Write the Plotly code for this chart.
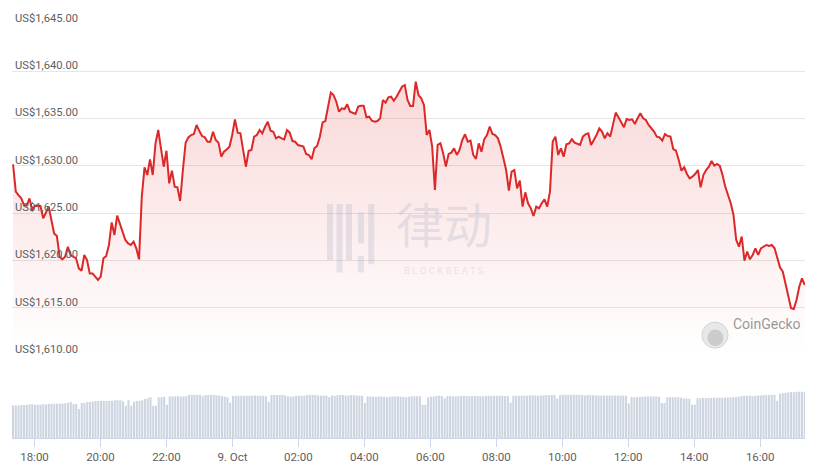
import pandas as pd
import plotly.graph_objects as go

# ---- data (ETH price, 5-min samples, 8-9 Oct) ----
price_a = [1630.16, 1627.27, 1626.91, 1626.56, 1625.86, 1625.79, 1626.56, 1625.33, 1625.79, 1625.79,
           1625.75, 1624.45, 1625.15, 1625.68, 1624.27, 1622.86, 1622.58, 1620.39, 1620.11, 1620.39,
           1621.45, 1620.57, 1620.39, 1620.22, 1619.16, 1618.91, 1620.57, 1620.04, 1618.63, 1618.63,
           1618.28, 1617.93, 1618.28, 1620.22, 1620.46, 1621.63, 1624.02, 1622.68, 1624.73, 1623.92,
           1623.14, 1622.16, 1621.8, 1621.63, 1621.98, 1621.27]
price_b = [1620.11, 1626.74, 1629.84, 1629.03, 1630.69, 1629.03, 1632.38, 1633.79, 1631.85, 1629.91,
           1631.6, 1628.15, 1629.49, 1627.8, 1627.73, 1626.28, 1629.56, 1632.45, 1633.01, 1633.26,
           1633.36, 1634.32, 1633.68, 1633.15, 1633.01, 1632.55, 1632.55, 1633.61, 1632.73, 1632.45,
           1630.97, 1631.5, 1631.74, 1632.03, 1633.26, 1634.92, 1633.51, 1633.44, 1631.67, 1629.91,
           1631.6, 1631.67, 1633.08, 1633.26, 1633.79, 1633.44, 1634.14, 1634.67, 1633.72]
price_c = [1633.61, 1632.91, 1633.08, 1632.91, 1632.8, 1633.79, 1633.51, 1632.62, 1632.55, 1632.2,
           1632.1, 1632.03, 1631.25, 1631.14, 1630.69, 1631.85, 1632.1, 1633.08, 1634.6, 1634.74,
           1636.26, 1637.74, 1637.49, 1636.78, 1635.73, 1636.08, 1636.01, 1636.5, 1635.73, 1635.62,
           1635.48, 1636.26, 1636.36, 1636.36, 1635.13, 1635.2, 1634.77, 1634.67, 1634.74, 1635.02,
           1636.96, 1636.68, 1637.24, 1637.31, 1636.89, 1637.31, 1637.84, 1638.37, 1638.55, 1636.96]
price_d = [1636.33, 1636.33, 1638.9, 1637.49, 1637.14, 1636.44, 1633.26, 1633.79, 1632.03, 1627.45,
           1632.21, 1632.38, 1631.33, 1629.92, 1631.26, 1631.4, 1631.85, 1631.15, 1631.68, 1632.74,
           1633.34, 1632.56, 1632.67, 1631.15, 1630.73, 1632.38, 1631.5, 1632.81, 1633.26, 1634.15,
           1633.37, 1633.26, 1632.91, 1632.03, 1630.8, 1629.56, 1627.38, 1629.39, 1629.56, 1627.62,
           1628.44, 1625.69, 1627.2, 1626.04, 1625.51, 1624.7, 1625.69, 1625.51, 1626.04, 1626.46,
           1625.69, 1627.27, 1632.56, 1633.09, 1631.15, 1631.85, 1630.97, 1632.28, 1632.38, 1632.81,
           1632.45, 1632.31, 1632.21, 1633.09, 1633.34, 1633.44, 1632.21, 1632.74, 1633.26, 1633.97,
           1633.62, 1632.91, 1633.44, 1633.09, 1634.5, 1635.63, 1635.13, 1634.67, 1634.08, 1634.96,
           1634.85, 1634.92, 1634.43, 1635.03, 1635.56, 1635.03, 1634.85, 1634.32, 1633.97, 1633.62,
           1633.09, 1633.02, 1632.67, 1633.37, 1633.16, 1633.09, 1631.78, 1631.61, 1630.62, 1629.49,
           1629.85, 1629.14, 1628.68, 1628.86, 1629.14, 1629.56, 1627.73, 1629.03, 1629.56, 1629.92,
           1630.52, 1630.02, 1630.2, 1630.0, 1629.03, 1627.8, 1626.92, 1626.04, 1624.8, 1622.16]
price_e = [1621.46, 1622.52, 1619.98, 1620.93, 1620.12, 1620.58, 1621.28, 1620.58, 1621.28, 1621.46,
           1621.63, 1621.53, 1621.63, 1621.28, 1620.22, 1619.24, 1618.81, 1617.58, 1616.35, 1614.94,
           1614.87, 1615.82, 1617.22, 1618.11, 1617.4]
prices = price_a + price_b + price_c + price_d + price_e

# 24h volume (US$ bn), one bar per sample
volumes = [4.25, 4.25, 4.25, 4.3, 4.3, 4.35, 4.4, 4.4, 4.35, 4.33, 4.33, 4.4, 4.38,
           4.42, 4.46, 4.46, 4.46, 4.5, 4.5, 4.55, 4.59, 4.72, 4.42, 4.45, 3.77,
           4.55, 4.6, 4.68, 4.72, 4.76, 4.81, 4.81, 4.81, 4.83, 4.81, 4.81, 4.85,
           4.94, 4.94, 4.92, 4.8, 4.2, 4.94, 4.2, 4.72, 4.81, 4.85, 4.94, 5.1, 5.2, 5.33,
           4.2, 4.2, 5.3, 5.33, 5.38, 4.33, 5.42, 5.4, 5.42, 5.45, 5.42, 5.4, 5.45,
           5.63, 5.63, 5.6, 5.63, 5.6, 5.45, 5.6, 5.6, 5.63, 5.6, 5.58, 5.55, 5.45, 5.4, 5.33,
           4.64, 5.48, 5.5, 5.5, 5.52, 5.5, 5.5, 5.52, 5.5, 5.55, 5.5, 5.5, 5.52, 5.45, 4.72,
           5.6, 5.62, 5.62, 5.6, 5.6, 5.55, 5.4, 5.4, 5.42, 5.5, 5.5, 5.52, 5.5,
           5.6, 5.6, 5.62, 5.6, 5.55, 5.52, 5.55, 5.5, 5.33,
           5.55, 5.52, 5.58, 5.6, 5.6, 5.55, 5.55, 5.6, 5.58, 5.55, 5.5, 5.5, 4.55,
           5.4, 5.42, 5.4, 5.35, 5.42, 5.4, 5.38, 5.33, 5.38, 5.42, 5.4, 5.4, 5.38, 5.35, 5.33, 5.38,
           5.45, 5.45, 5.45, 5.45, 4.33, 4.33, 5.33, 5.42, 5.42, 5.5, 5.5, 5.48, 5.2,
           5.45, 5.48, 5.45, 5.42, 5.45, 5.48,
           5.5, 5.48, 5.45, 5.48, 5.5, 5.48, 5.45, 5.45, 5.48, 5.5, 5.48,
           5.5, 5.52, 5.5, 5.5, 5.48, 5.5, 4.64,
           5.5, 5.5, 5.52, 5.5, 5.55, 5.52, 5.55, 5.58, 5.55, 5.52, 5.55, 5.58, 5.6, 5.58, 5.6,
           5.62, 5.15, 5.6,
           5.63, 5.63, 5.65, 5.65, 5.63, 5.63, 5.6, 5.6, 5.55, 5.6, 5.6,
           5.58, 5.55, 5.55, 5.55, 5.55, 5.55, 5.55, 5.55, 5.55, 5.55, 5.55, 5.55, 5.5, 4.5,
           5.35, 5.3, 5.3, 5.35, 5.4, 5.4, 5.42, 5.42, 5.4, 5.4, 5.38, 4.55, 4.55,
           5.3, 5.33, 5.33, 5.3, 5.3, 5.25, 5.15, 5.15, 5.12, 4.35, 4.35,
           5.2, 5.2, 5.22, 5.22, 5.22, 5.25, 5.25, 5.25, 5.25, 5.25, 5.25, 5.28, 5.28, 5.3, 5.3,
           5.4, 5.45, 5.5, 5.5, 5.55, 5.45, 5.5, 5.55, 5.55, 5.6, 5.6, 5.6, 5.63, 5.63, 4.85,
           5.76, 5.85, 5.9, 5.94, 6.0, 5.98, 6.02, 6.02, 6.02, 6.02]

start_time = "2023-10-08 17:21"
end_time = "2023-10-09 17:21"
price_times = pd.date_range(start_time, end_time, periods=len(prices))
volume_times = pd.date_range(start_time, end_time, periods=len(volumes))

price_ticks = [1610, 1615, 1620, 1625, 1630, 1635, 1640, 1645]
price_tick_text = [f"US${v:,.2f}" for v in price_ticks]
time_ticks = ["2023-10-08 18:00", "2023-10-08 20:00", "2023-10-08 22:00", "2023-10-09 00:00",
              "2023-10-09 02:00", "2023-10-09 04:00", "2023-10-09 06:00", "2023-10-09 08:00",
              "2023-10-09 10:00", "2023-10-09 12:00", "2023-10-09 14:00", "2023-10-09 16:00"]
time_tick_text = ["18:00", "20:00", "22:00", "9. Oct", "02:00", "04:00", "06:00", "08:00",
                  "10:00", "12:00", "14:00", "16:00"]

LINE = "#dc2828"
FONT = "Roboto"
TXT = "#5e5e5e"

fig = go.Figure()
fig.add_trace(go.Bar(
    x=volume_times, y=volumes, yaxis="y2",
    marker=dict(color="#cdd5e1", line=dict(width=0)),
    hoverinfo="skip", showlegend=False,
))
fig.add_trace(go.Scatter(
    x=price_times, y=prices, mode="lines",
    line=dict(color=LINE, width=2),
    fill="tozeroy",
    fillgradient=dict(type="vertical", start=1610, stop=1640,
                      colorscale=[[0, "rgba(225,45,45,0.0)"], [1, "rgba(225,45,45,0.19)"]]),
    showlegend=False,
))

# the page places the figure 8px from the top-left corner, so the figure is 8px smaller
fig.update_layout(
    width=820, height=467,
    margin=dict(l=4, r=23, t=16, b=37),
    paper_bgcolor="white", plot_bgcolor="white",
    font=dict(family=FONT, size=11.5, color=TXT),
    bargap=0.25,
    showlegend=False,
    xaxis=dict(
        type="date", anchor="y2", automargin=False,
        range=["2023-10-08 17:19:05", "2023-10-09 17:21:30"],
        showgrid=False, zeroline=False,
        showline=True, linecolor="#ccd6eb", linewidth=1,
        ticks="outside", ticklen=8, tickcolor="#ccd6eb",
        tickvals=time_ticks, ticktext=time_tick_text,
        tickfont=dict(family=FONT, size=11.5, color=TXT),
    ),
    yaxis=dict(
        domain=[0.2005, 1], range=[1610, 1645], automargin=False,
        tickvals=price_ticks, ticktext=price_tick_text,
        ticklabelposition="inside", ticklabelshift=-6, ticklabeloverflow="allow",
        ticklabelstandoff=0,
        showgrid=True, gridcolor="#e6e6e6", gridwidth=1,
        zeroline=False, showline=False, ticks="",
        tickfont=dict(family=FONT, size=11.2, color=TXT),
    ),
    yaxis2=dict(domain=[0, 0.2], range=[0, 10.8], visible=False, fixedrange=True,
                automargin=False),
)

# watermark: BlockBeats logo + CoinGecko
wm = "rgba(180,182,205,0.32)"
for x0, y0, y1 in [(0.401, 0.43, 0.565), (0.413, 0.40, 0.565), (0.425, 0.43, 0.565),
                   (0.440, 0.47, 0.545), (0.440, 0.40, 0.44), (0.453, 0.42, 0.565)]:
    fig.add_shape(type="line", xref="paper", yref="paper", x0=x0, x1=x0, y0=y0, y1=y1,
                  line=dict(color=wm, width=6), layer="above")
fig.add_annotation(text="律动", xref="paper", yref="paper", x=0.545, y=0.522,
                   showarrow=False, font=dict(family="Noto Sans CJK SC", size=48, color=wm))
fig.add_annotation(text="B L O C K B E A T S", xref="paper", yref="paper", x=0.545, y=0.405,
                   showarrow=False, font=dict(family=FONT, size=9.5, color=wm))
fig.add_shape(type="circle", xref="paper", yref="paper", x0=0.870, x1=0.903, y0=0.217, y1=0.280,
              fillcolor="rgba(228,228,228,0.85)", line=dict(color="rgba(205,205,205,0.8)", width=1))
fig.add_shape(type="circle", xref="paper", yref="paper", x0=0.877, x1=0.897, y0=0.222, y1=0.262,
              fillcolor="rgba(195,195,195,0.8)", line=dict(width=0))
fig.add_annotation(text="CoinGecko", xref="paper", yref="paper", x=0.907, y=0.251,
                   xanchor="left", showarrow=False,
                   font=dict(family=FONT, size=14, color="#999999"))

fig.write_html("out.html")
